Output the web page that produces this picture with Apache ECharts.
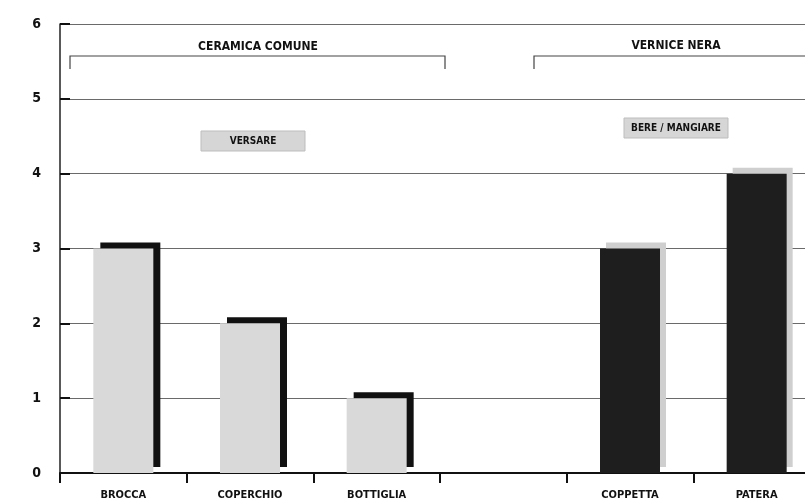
<!DOCTYPE html>
<html><head><meta charset="utf-8">
<script src="https://cdn.jsdelivr.net/npm/echarts@6/dist/echarts.min.js"></script>
<style>html,body{margin:0;padding:0;background:#fff;overflow:hidden}#c{width:822px;height:504px}</style>
</head><body><div id="c"></div>
<script>
var categories = ['BROCCA', 'COPERCHIO', 'BOTTIGLIA', '', 'COPPETTA', 'PATERA'];
var ceramicaComune = [3, 2, 1, null, null, null];
var verniceNera = [null, null, null, null, 3, 4];
var yTicks = [0, 1, 2, 3, 4, 5, 6];

var FONT = "'DejaVu Sans Condensed', 'DejaVu Sans', sans-serif";
var chart = echarts.init(document.getElementById('c'), null, {renderer: 'canvas'});

function bracket(x1, x2, y, drop) {
  return {type: 'polyline', silent: true, shape: {points: [[x1, y + drop], [x1, y], [x2, y], [x2, y + drop]]},
    style: {stroke: '#444', lineWidth: 1.2, fill: null}};
}
function tag(text, cx, cy, w, h) {
  return {type: 'group', children: [
    {type: 'rect', shape: {x: cx - w / 2, y: cy - h / 2, width: w, height: h},
      style: {fill: '#d6d6d6', stroke: '#bdbdbd', lineWidth: 1}},
    {type: 'text', style: {text: text, x: cx, y: cy, align: 'center', verticalAlign: 'middle',
      font: 'bold 10px ' + FONT, fill: '#111'}}
  ]};
}

chart.setOption({
  animation: false,
  grid: {left: 60, top: 24, width: 760, height: 449, containLabel: false},
  xAxis: {
    type: 'category', data: categories, boundaryGap: true,
    axisLine: {lineStyle: {color: '#111', width: 2}},
    axisTick: {show: true, length: 10, inside: false, lineStyle: {color: '#111', width: 2}},
    axisLabel: {color: '#111', fontFamily: FONT, fontWeight: 'bold', fontSize: 11, margin: 17},
    splitLine: {show: false}
  },
  yAxis: {
    type: 'value', min: 0, max: 6, interval: 1,
    axisLine: {show: true, lineStyle: {color: '#222', width: 1.5}},
    axisTick: {show: true, inside: true, length: 10, lineStyle: {color: '#111', width: 2}},
    axisLabel: {color: '#111', fontFamily: FONT, fontWeight: 'bold', fontSize: 14, margin: 19,
      formatter: function (v) { return yTicks.indexOf(v) >= 0 ? String(v) : ''; }},
    splitLine: {show: true, lineStyle: {color: '#6a6a6a', width: 1}}
  },
  series: [
    {
      name: 'Ceramica comune', type: 'bar', data: ceramicaComune, barWidth: 60, barGap: '-100%',
      itemStyle: {color: '#d9d9d9',
        shadowColor: '#111', shadowBlur: 0, shadowOffsetX: 7, shadowOffsetY: -6},
      emphasis: {disabled: true}
    },
    {
      name: 'Vernice nera', type: 'bar', data: verniceNera, barWidth: 60, barGap: '-100%',
      itemStyle: {color: '#1e1e1e', shadowColor: '#cfcfcf', shadowBlur: 0, shadowOffsetX: 6, shadowOffsetY: -6},
      emphasis: {disabled: true}
    }
  ],
  graphic: [
    bracket(70, 445, 56, 13),
    bracket(534, 830, 56, 13),
    {type: 'text', silent: true, style: {text: 'CERAMICA COMUNE', x: 258, y: 47, align: 'center', verticalAlign: 'middle',
      font: 'bold 12px ' + FONT, fill: '#111'}},
    {type: 'text', silent: true, style: {text: 'VERNICE NERA', x: 676, y: 46, align: 'center', verticalAlign: 'middle',
      font: 'bold 12px ' + FONT, fill: '#111'}},
    tag('VERSARE', 253, 141, 104, 20),
    tag('BERE / MANGIARE', 676, 128, 104, 20)
  ]
});
</script></body></html>
